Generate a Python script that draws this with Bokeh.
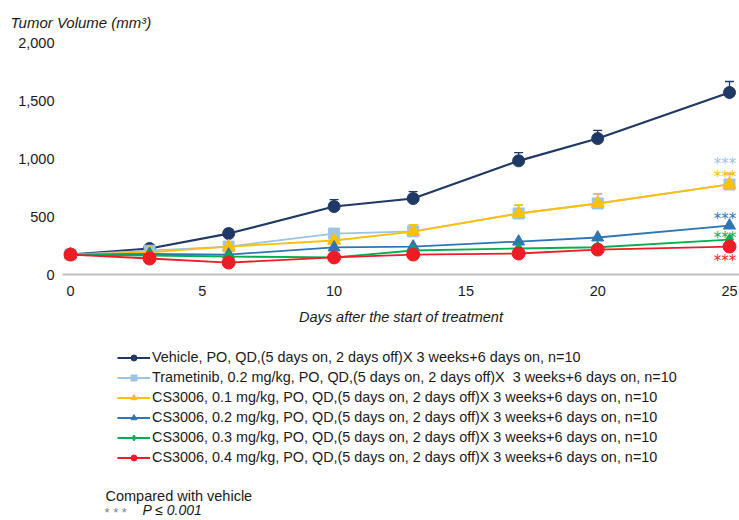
from bokeh.plotting import figure
from bokeh.layouts import column
from bokeh.models import (ColumnDataSource, Legend, LegendItem, Label, Whisker, TeeHead,
                          FixedTicker, NumeralTickFormatter, Range1d, Title)
from bokeh.embed import file_html
from bokeh.resources import INLINE
from bokeh.core.properties import value

# ---------------- data ----------------
days = [0, 3, 6, 10, 13, 17, 20, 25]
vehicle = [172, 224, 353, 586, 655, 980, 1172, 1569]
vehicle_err = [10, 18, 35, 60, 60, 70, 70, 95]
trametinib = [172, 205, 241, 353, 372, 526, 612, 776]
trametinib_err = [8, 10, 20, 30, 55, 70, 80, 90]
cs_01 = [172, 190, 241, 293, 370, 526, 612, 776]
cs_01_err = [8, 10, 20, 30, 60, 75, 86, 95]
cs_02 = [172, 178, 172, 233, 241, 284, 319, 422]
cs_03 = [172, 164, 155, 147, 207, 224, 235, 300]
cs_04 = [172, 138, 103, 147, 172, 181, 215, 241]

labels = [
    "Vehicle, PO, QD,(5 days on, 2 days off)X 3 weeks+6 days on, n=10",
    "Trametinib, 0.2 mg/kg, PO, QD,(5 days on, 2 days off)X  3 weeks+6 days on, n=10",
    "CS3006, 0.1 mg/kg, PO, QD,(5 days on, 2 days off)X 3 weeks+6 days on, n=10",
    "CS3006, 0.2 mg/kg, PO, QD,(5 days on, 2 days off)X 3 weeks+6 days on, n=10",
    "CS3006, 0.3 mg/kg, PO, QD,(5 days on, 2 days off)X 3 weeks+6 days on, n=10",
    "CS3006, 0.4 mg/kg, PO, QD,(5 days on, 2 days off)X 3 weeks+6 days on, n=10",
]
y_ticks = [0, 500, 1000, 1500, 2000]
x_ticks = [0, 5, 10, 15, 20, 25]
# significance markers (*** vs vehicle) at day 25, order: trametinib, 0.1, 0.2, 0.3, 0.4
star_y = [983, 879, 517, 345, 155]

# ---------------- styles ----------------
colors = ["#1F3864", "#9DC3E6", "#FFC000", "#2E75B6", "#00B050", "#EE1C25"]
markers = ["circle", "square", "triangle", "triangle", "diamond", "circle"]
sizes = [12, 11, 13, 12, 12, 13]
FONT = "Liberation Sans"
TXT = "#1a1a1a"

X_SCALE = 26.36   # px per day
Y_SCALE = 0.116   # px per mm3


def dx(px):
    return (px - 70) / X_SCALE


def dy(py):
    return (274 - py) / Y_SCALE


W = 739
H1 = 340
H2 = 520 - H1
FRAME_LEFT = 62

p = figure(width=W, height=H1, output_backend="svg", toolbar_location=None,
           x_range=Range1d(dx(FRAME_LEFT), dx(739)), y_range=Range1d(0, dy(32)),
           min_border_left=FRAME_LEFT, min_border_right=0, min_border_top=32,
           min_border_bottom=H1 - 274)
p.outline_line_color = None
p.grid.visible = False

p.add_layout(Title(text="Tumor Volume (mm³)", align="left", offset=-52, standoff=3,
                   text_font=FONT, text_font_size="15px", text_font_style="italic",
                   text_color=TXT), "above")

# axes
p.xaxis.ticker = FixedTicker(ticks=x_ticks)
p.xaxis.axis_line_color = "#BFBFBF"
p.xaxis.axis_line_width = 2
p.xaxis.major_tick_line_color = None
p.xaxis.minor_tick_line_color = None
p.xaxis.major_tick_out = 0
p.xaxis.major_tick_in = 0
p.xaxis.major_label_text_font = FONT
p.xaxis.major_label_text_font_size = "14.5px"
p.xaxis.major_label_text_color = TXT
p.xaxis.major_label_standoff = 11
p.xaxis.axis_label = "Days after the start of treatment"
p.xaxis.axis_label_text_font = FONT
p.xaxis.axis_label_text_font_size = "14.5px"
p.xaxis.axis_label_text_font_style = "italic"
p.xaxis.axis_label_text_color = TXT
p.xaxis.axis_label_standoff = 10

p.yaxis.ticker = FixedTicker(ticks=y_ticks)
p.yaxis.formatter = NumeralTickFormatter(format="0,0")
p.yaxis.axis_line_color = None
p.yaxis.major_tick_line_color = None
p.yaxis.minor_tick_line_color = None
p.yaxis.major_tick_out = 0
p.yaxis.major_tick_in = 0
p.yaxis.major_label_text_font = FONT
p.yaxis.major_label_text_font_size = "14.5px"
p.yaxis.major_label_text_color = TXT
p.yaxis.major_label_standoff = 8

series = [vehicle, trametinib, cs_01, cs_02, cs_03, cs_04]
errs = [vehicle_err, trametinib_err, cs_01_err, None, None, None]
for i, ys in enumerate(series):
    src = ColumnDataSource(dict(x=days, y=ys))
    if errs[i] is not None:
        upper = [a + b for a, b in zip(ys, errs[i])]
        esrc = ColumnDataSource(dict(x=days, lo=ys, up=upper))
        w = Whisker(base="x", lower="lo", upper="up", source=esrc, dimension="height",
                    line_color=colors[i], line_width=1.3,
                    upper_head=TeeHead(size=9, line_color=colors[i], line_width=1.3),
                    lower_head=None)
        p.add_layout(w)
    lw = 2.2 if i == 0 else 1.8
    p.line("x", "y", source=src, line_color=colors[i], line_width=lw)
    p.scatter("x", "y", source=src, marker=markers[i], size=sizes[i],
              fill_color=colors[i], line_color=colors[i])

# significance stars
star_colors = colors[1:]
ssrc = ColumnDataSource(dict(x=[24.40] * len(star_y), y=star_y, c=star_colors))
p.text(x="x", y="y", text=value("***"), source=ssrc, text_color="c",
       text_font=value("DejaVu Sans"), text_font_size="15px", text_align="left",
       text_baseline="middle", y_offset=4)

# ---------------- legend & footnote panel ----------------
# frames of stacked plots are aligned, so this frame spans page x 62..739
q = figure(width=W, height=H2, output_backend="svg", toolbar_location=None,
           x_range=Range1d(FRAME_LEFT, W), y_range=Range1d(520, H1),
           x_axis_location=None, y_axis_location=None,
           min_border_left=FRAME_LEFT, min_border_right=0, min_border_top=0, min_border_bottom=0)
q.outline_line_color = None
q.grid.visible = False

nan = float("nan")
items = []
for i in range(len(labels)):
    blank = ColumnDataSource(dict(x=[nan], y=[nan]))
    lr = q.line("x", "y", source=blank, line_color=colors[i], line_width=1.8)
    sr = q.scatter("x", "y", source=blank, marker=markers[i], size=sizes[i],
                   fill_color=colors[i], line_color=colors[i])
    items.append(LegendItem(label=labels[i], renderers=[lr, sr]))

legend = Legend(items=items, location=(117 - FRAME_LEFT, 520 - 467), orientation="vertical",
                glyph_width=33, glyph_height=15, label_height=20, label_standoff=2,
                spacing=0, padding=0, margin=0, border_line_color=None,
                background_fill_alpha=0, label_text_font=FONT,
                label_text_font_size="14.4px", label_text_color=TXT)
q.add_layout(legend, "center")

q.add_layout(Label(x=105, y=495, text="Compared with vehicle", text_font=FONT,
                   text_font_size="14.5px", text_color=TXT,
                   text_baseline="middle", text_align="left"))
q.add_layout(Label(x=104, y=512, text="* * *", text_font=FONT,
                   text_font_size="13px", text_color="#7f7f7f",
                   text_baseline="middle", text_align="left"))
q.add_layout(Label(x=142, y=509, text="P ≤ 0.001", text_font=FONT,
                   text_font_size="14px", text_font_style="italic", text_color=TXT,
                   text_baseline="middle", text_align="left"))

layout = column(p, q, spacing=0)
open("out.html", "w").write(file_html(layout, INLINE))
